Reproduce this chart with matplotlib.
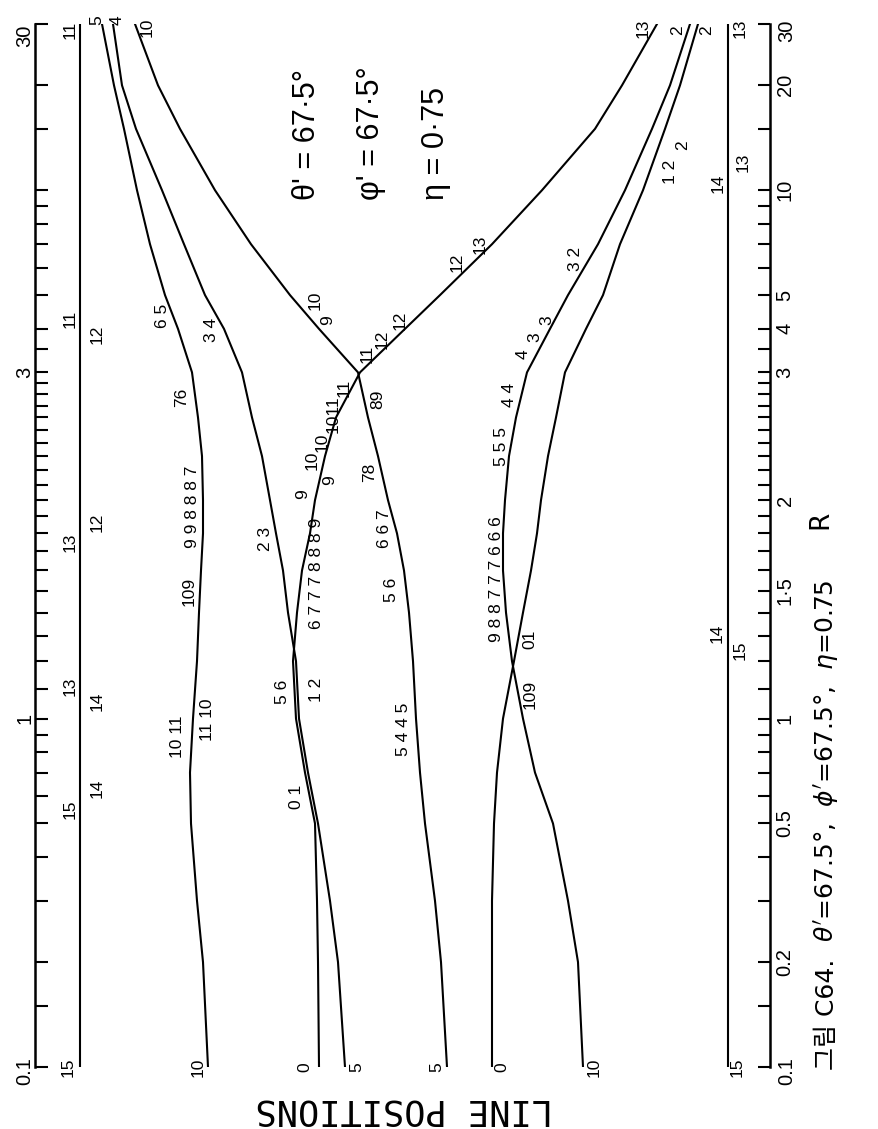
import numpy as np
import matplotlib
matplotlib.use("Agg")
import matplotlib.pyplot as plt

r_grid = [0.1, 0.2, 0.3, 0.5, 0.7, 1.0, 1.2, 1.4, 1.6, 1.8, 2.0, 2.3, 2.6, 3.0,
          4, 5, 7, 10, 15, 20, 30]

# line positions (arbitrary units, spectrum centre = 0) along r_grid
pos_a = [-19.6, -20.1, -20.7, -21.3, -21.4, -21.1, -20.7, -20.5, -20.3, -20.1, -20.1,
         -20.2, -20.6, -21.2, -22.6, -23.9, -25.4, -26.7, -28.0, -29.0, -30.2]
pos_b = [-5.9, -6.6, -7.4, -8.6, -9.6, -10.5, -10.8, -11.6, -12.1, -12.8, -13.4,
         -14.2, -15.2, -16.2, -18.0, -19.9, -22.0, -24.2, -26.8, -28.2, -29.1]
pos_c = [4.3, 3.7, 3.1, 2.1, 1.6, 1.2, 0.9, 0.5, 0.0, -0.7, -1.6,
         -2.6, -3.6, -4.6, -8.5, -11.4, -15.3, -18.9, -22.4, -24.6, -26.9]
pos_d = [-8.5, -8.6, -8.7, -8.9, -9.9, -10.8, -11.1, -10.7, -10.2, -9.4, -8.9,
         -7.9, -6.8, -4.4, 0.1, 3.6, 8.8, 13.8, 19.1, 21.8, 25.3]
pos_e = [17.9, 17.4, 16.4, 14.9, 13.1, 11.9, 10.8, 10.2, 9.9, 9.9, 10.1,
         10.5, 11.2, 12.3, 14.6, 16.4, 19.4, 22.1, 24.8, 26.6, 28.6]
pos_f = [8.8, 8.8, 8.8, 9.0, 9.3, 9.9, 11.0, 11.9, 12.7, 13.3, 13.7,
         14.4, 15.2, 16.1, 18.2, 19.9, 21.6, 23.9, 26.1, 27.6, 29.4]
pos_left = -32.4
pos_right = 32.4

# R axis ticks and labels
tick_vals = [0.1, 0.15, 0.2, 0.3, 0.4, 0.5, 0.6, 0.7, 0.8, 0.9, 1.0,
             1.1, 1.2, 1.3, 1.4, 1.5, 1.6, 1.7, 1.8, 1.9, 2.0,
             2.1, 2.2, 2.3, 2.4, 2.5, 2.6, 2.7, 2.8, 2.9, 3.0,
             3.5, 4, 5, 6, 7, 8, 9, 10, 15, 20, 30]
right_labels = {0.2: "0.2", 0.5: "0.5", 1.0: "1", 1.5: "1·5", 2.0: "2",
                3.0: "3", 4: "4", 5: "5", 10: "10", 20: "20"}
# end labels sit a little inside the scale ends: (text, position, R)
end_labels = [("0.1", -37.9, 0.0974), ("1", -37.9, 1.0), ("3", -37.9, 3.0),
              ("30", -37.9, 27.8), ("0.1", 38.3, 0.0974), ("30", 38.3, 28.6)]

# transition numbers written along the curves: (text, position, R)
curve_labels = [
    ("11", -33.4, 28.8), ("15", -33.6, 0.1), ("11", -33.4, 4.26), ("12", -30.7, 3.86),
    ("13", -33.4, 1.752), ("12", -30.7, 1.866), ("13", -33.4, 1.107), ("14", -30.7, 1.055),
    ("14", -30.7, 0.631), ("15", -33.4, 0.55),
    ("13", 33.6, 29.1), ("15", 33.3, 0.1), ("13", 33.9, 12.0), ("14", 31.4, 10.5),
    ("14", 31.3, 1.309), ("15", 33.6, 1.244),
    ("10", -20.6, 0.1), ("0", -9.9, 0.1), ("5", -4.7, 0.1), ("5", 3.3, 0.1),
    ("0", 9.8, 0.1), ("10", 19.0, 0.1),
    ("5", -30.7, 30.7), ("4", -28.7, 30.7), ("10", -25.7, 29.4),
    ("13", 23.9, 29.1), ("2", 27.4, 28.8), ("2", 30.3, 28.8),
    ("6 5", -24.1, 4.37), ("76", -22.2, 2.77), ("9 9 8 8 8 7", -21.1, 1.957),
    ("109", -21.5, 1.495), ("10 11", -22.6, 0.888), ("11 10", -19.6, 0.993),
    ("3 4", -19.2, 3.96), ("2 3", -13.8, 1.769), ("5 6", -12.1, 1.09),
    ("1 2", -8.7, 1.096), ("0 1", -10.7, 0.598),
    ("10", -8.9, 4.83), ("9", -7.6, 4.23), ("89", -2.6, 2.755), ("78", -3.4, 2.187),
    ("6 6 7", -1.9, 1.825), ("5 6", -1.2, 1.504), ("5 4 4 5", 0.0, 0.93),
    ("12", 5.3, 6.21), ("13", 7.6, 7.0), ("11", -3.7, 3.38), ("12", -2.2, 3.73),
    ("12", -0.4, 4.23), ("11", -6.0, 2.86), ("1011", -7.1, 2.63), ("10", -8.2, 2.40),
    ("10", -9.2, 2.27), ("9", -7.4, 2.13), ("9", -10.1, 2.04),
    ("6 7 7 7 8 8 8 9", -8.7, 1.583),
    ("3 2", 17.2, 6.34), ("3", 14.3, 4.23), ("3", 13.1, 3.78), ("4", 11.9, 3.38),
    ("4 4", 10.6, 2.79), ("5 5 5", 9.8, 2.37), ("9 8 8 7 7 7 6 6 6", 9.3, 1.558),
    ("01", 12.6, 1.288), ("109", 12.6, 1.079), ("1 2", 26.7, 11.3), ("2", 27.9, 13.5),
]

params = ["θ' = 67·5°", "φ' = 67·5°", "η = 0·75"]
param_pos = [-9.7, -3.3, 3.2]

plt.rcParams["font.family"] = ["Liberation Sans", "DejaVu Sans"]

# piecewise log scale: the 1..3 stretch of R is drawn wider
K = 727 / 349
L3 = np.log10(3)


def fwd(r):
    lr = np.log10(np.clip(np.asarray(r, dtype=float), 1e-9, None))
    return np.where(lr <= 0, lr, np.where(lr <= L3, K * lr, K * L3 + lr - L3))


def inv(t):
    t = np.asarray(t, dtype=float)
    lr = np.where(t <= 0, t, np.where(t <= K * L3, t / K, t - K * L3 + L3))
    return 10 ** lr


fig = plt.figure(figsize=(8.79, 11.29), dpi=100)
ax = fig.add_axes([35 / 879, 62 / 1129, 735 / 879, 1043 / 1129])
ax.set_yscale("function", functions=(fwd, inv))
ax.set_ylim(0.1, 30)
ax.set_xlim(-36.9, 36.6)

for pos in [pos_a, pos_b, pos_c, pos_d, pos_e, pos_f]:
    ax.plot(pos, r_grid, color="black", lw=1.5)
ax.plot([pos_left, pos_left], [r_grid[0], r_grid[-1]], color="black", lw=1.5)
ax.plot([pos_right, pos_right], [r_grid[0], r_grid[-1]], color="black", lw=1.5)

# axes look
for side in ["top", "bottom"]:
    ax.spines[side].set_visible(False)
for side in ["left", "right"]:
    ax.spines[side].set_linewidth(1.8)
ax.set_xticks([])
ax.set_yticks(tick_vals, labels=[right_labels.get(v, "") for v in tick_vals])
ax.yaxis.set_minor_locator(plt.NullLocator())
ax.tick_params(axis="y", which="major", direction="in", length=9, width=1.5,
               left=True, right=True, labelleft=False, labelright=True,
               labelrotation=90, labelsize=14.5, pad=4)
for lab in ax.get_yticklabels():
    lab.set_va("center")

for s, p, r in end_labels:
    ax.text(p, r, s, rotation=90, ha="center", va="center", fontsize=14.5,
            clip_on=False)

for s, p, r in curve_labels:
    ax.text(p, r, s, rotation=90, ha="center", va="center", fontsize=12.5, clip_on=False)

for s, p in zip(params, param_pos):
    ax.text(p, 9.4, s, rotation=90, rotation_mode="anchor", ha="left", va="center",
            fontsize=22)

ax.text(41.6, 1.878, "R", rotation=90, ha="center", va="center", fontsize=19,
        family="DejaVu Sans", clip_on=False)
ax.text(0.0, 0.0753, "LINE POSITIONS", rotation=180, ha="center", va="center",
        fontsize=25.5, family="DejaVu Sans Mono", clip_on=False)

cap = ax.text(42.3, 0.098, "그림 C64.", rotation=90, rotation_mode="anchor",
              ha="left", va="center", fontsize=18,
              family=["DejaVu Sans", "Noto Sans CJK KR"], clip_on=False)
ax.annotate(r"$\theta'$=67.5°,  $\phi'$=67.5°,  $\eta$=0.75", xy=(0.5, 1), xycoords=cap,
            xytext=(0, 12), textcoords="offset points", rotation=90,
            rotation_mode="anchor", ha="left", va="center", fontsize=18,
            family="DejaVu Sans")

fig.savefig("out.png", dpi=100, facecolor="white")
